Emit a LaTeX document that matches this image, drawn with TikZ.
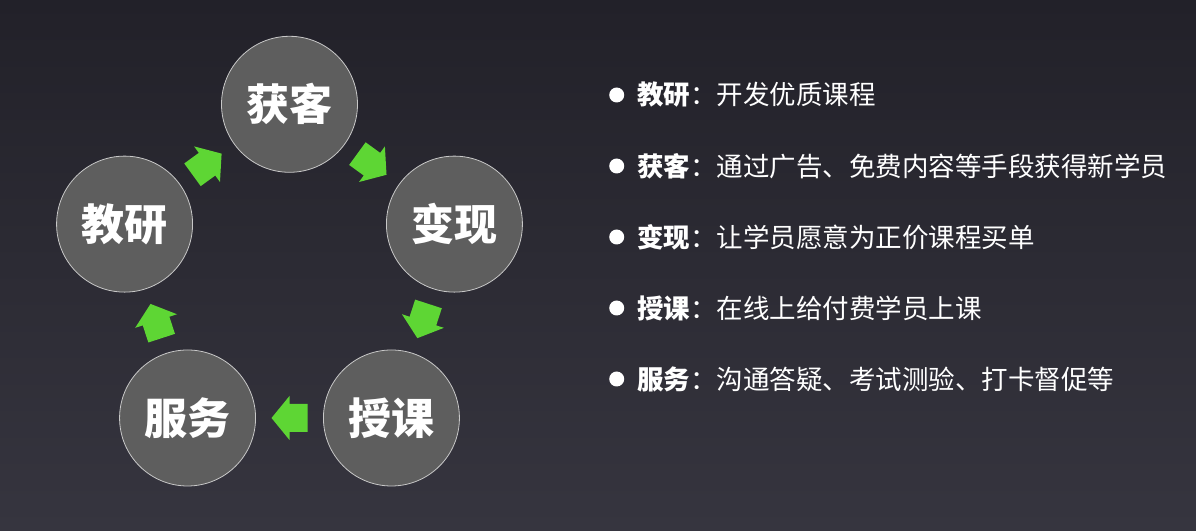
\documentclass[tikz,border=0pt]{standalone}
\usepackage{fontspec}
\newfontfamily\cjk{Noto Sans CJK SC}
\usetikzlibrary{calc}
\definecolor{bgtop}{HTML}{222129}
\definecolor{bgbot}{HTML}{36353F}
\definecolor{cfill}{HTML}{5E5E5E}
\definecolor{cline}{HTML}{C8C8C8}
\definecolor{agreen}{HTML}{5ED634}
\begin{document}
\begin{tikzpicture}[x=1pt,y=1pt,
  stage/.style={circle,fill=cfill,draw=cline,line width=0.8pt,minimum size=136pt,inner sep=0pt,text=white,font=\cjk\bfseries\fontsize{43}{43}\selectfont},
  garrow/.pic={\fill[agreen] (18pt,0pt) -- (0pt,22pt) -- (0pt,14pt) -- (-18pt,14pt) -- (-18pt,-14pt) -- (0pt,-14pt) -- (0pt,-22pt) -- cycle;},
  bulletdot/.style={circle,fill=white,minimum size=15pt,inner sep=0pt},
  item/.style={anchor=west,inner sep=0pt,text=white,font=\cjk\fontsize{26.5}{26.5}\selectfont}
]
\shade[top color=bgtop,bottom color=bgbot] (0,0) rectangle (1196,530);
\useasboundingbox (0,0) rectangle (1196,530);
\coordinate (o) at (289.5,252.3);
\node[stage] (hk) at ($(o)+(90:173.4)$) {获客};
\node[stage] (bx) at ($(o)+(18:173.4)$) {变现};
\node[stage] (sk) at ($(o)+(-54:173.4)$) {授课};
\node[stage] (fw) at ($(o)+(-126:173.4)$) {服务};
\node[stage] (jy) at ($(o)+(162:173.4)$) {教研};
\pic[rotate=-36] at ($(hk)!0.5!(bx)$) {garrow};
\pic[rotate=-108] at ($(bx)!0.5!(sk)$) {garrow};
\pic[rotate=180] at ($(sk)!0.5!(fw)$) {garrow};
\pic[rotate=108] at ($(fw)!0.5!(jy)$) {garrow};
\pic[rotate=36] at ($(jy)!0.5!(hk)$) {garrow};
\foreach \yy/\nm/\lab/\txt in {435/r1/教研/开发优质课程,364/r2/获客/通过广告、免费内容等手段获得新学员,293/r3/变现/让学员愿意为正价课程买单,222/r4/授课/在线上给付费学员上课,151/r5/服务/沟通答疑、考试测验、打卡督促等}{
  \node[bulletdot] (b\nm) at (616.7,\yy) {};
  \node[item] (t\nm) at (637,\yy) {{\bfseries\lab}：\txt};
}
\end{tikzpicture}
\end{document}
